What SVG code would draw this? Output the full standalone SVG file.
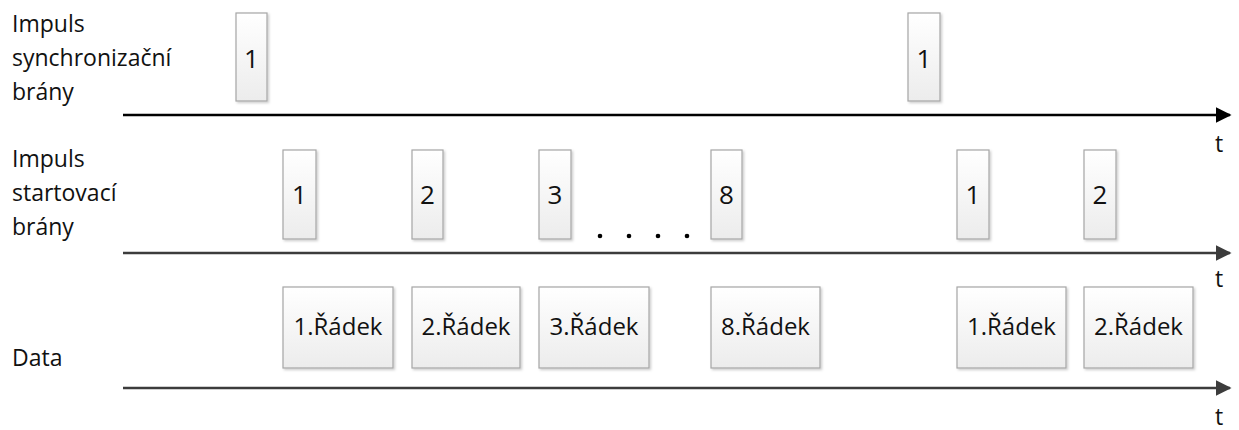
<svg xmlns="http://www.w3.org/2000/svg" width="1239" height="430" viewBox="0 0 1239 430">
<style>
.lbl{font-family:"Open Sans","Liberation Sans",sans-serif;font-size:23px;fill:#111}
.num{font-family:"Open Sans","Liberation Sans",sans-serif;font-size:24px;fill:#111;text-anchor:middle}
.dig{font-size:26px}
.box{fill:url(#g);stroke:#a6a6a6;stroke-width:1.2;filter:url(#sh)}
.ax1{stroke:#000;stroke-width:2.6;fill:none}
.ax{stroke:#3c3c3c;stroke-width:2.4;fill:none}
</style>
<defs>
<linearGradient id="g" x1="0" y1="0" x2="0" y2="1">
<stop offset="0" stop-color="#ffffff"/><stop offset="1" stop-color="#ececec"/>
</linearGradient>
<filter id="sh" x="-20%" y="-20%" width="150%" height="150%">
<feDropShadow dx="1.5" dy="1.5" stdDeviation="1" flood-color="#000" flood-opacity="0.2"/>
</filter>
<marker id="a1" viewBox="0 0 10 10" refX="9" refY="5" markerWidth="6" markerHeight="6" markerUnits="strokeWidth" orient="auto"><path d="M0,0 L10,5 L0,10 z" fill="#000"/></marker>
<marker id="a2" viewBox="0 0 10 10" refX="9" refY="5" markerWidth="6.5" markerHeight="6.5" markerUnits="strokeWidth" orient="auto"><path d="M0,0 L10,5 L0,10 z" fill="#3c3c3c"/></marker>
</defs>
<g id="labels">
<text class="lbl" x="12" y="32">Impuls</text>
<text class="lbl" x="12" y="66">synchronizační</text>
<text class="lbl" x="12" y="100">brány</text>
<text class="lbl" x="12" y="167">Impuls</text>
<text class="lbl" x="12" y="201">startovací</text>
<text class="lbl" x="12" y="235">brány</text>
<text class="lbl" x="12" y="366">Data</text>
<text class="lbl" x="1215" y="152">t</text>
<text class="lbl" x="1215" y="287">t</text>
<text class="lbl" x="1215" y="425">t</text>
</g>
<g id="connectors">
<line class="ax1" x1="123" y1="115" x2="1230" y2="115" marker-end="url(#a1)"/>
<line class="ax" x1="123" y1="253" x2="1230" y2="253" marker-end="url(#a2)"/>
<line class="ax" x1="123" y1="388" x2="1230" y2="388" marker-end="url(#a2)"/>
</g>
<g id="sync1"><rect class="box" x="236" y="13" width="31" height="88"/><text class="num dig" x="251.5" y="68">1</text></g>
<g id="sync2"><rect class="box" x="908" y="13" width="32" height="88"/><text class="num dig" x="924" y="68">1</text></g>
<g id="start1"><rect class="box" x="283" y="150" width="33" height="89"/><text class="num dig" x="299.5" y="204">1</text></g>
<g id="start2"><rect class="box" x="412" y="150" width="31" height="89"/><text class="num dig" x="427.5" y="204">2</text></g>
<g id="start3"><rect class="box" x="539" y="150" width="32" height="89"/><text class="num dig" x="555" y="204">3</text></g>
<g id="start8"><rect class="box" x="711" y="150" width="31" height="89"/><text class="num dig" x="726.5" y="204">8</text></g>
<g id="start1b"><rect class="box" x="957" y="150" width="32" height="89"/><text class="num dig" x="973" y="204">1</text></g>
<g id="start2b"><rect class="box" x="1084" y="150" width="32" height="89"/><text class="num dig" x="1100" y="204">2</text></g>
<g id="dots" fill="#000"><circle cx="600" cy="236" r="2.3"/><circle cx="629" cy="236" r="2.3"/><circle cx="658" cy="236" r="2.3"/><circle cx="687" cy="236" r="2.3"/></g>
<g id="data1"><rect class="box" x="283" y="287" width="110" height="81"/><text class="num" x="338" y="335">1.Řádek</text></g>
<g id="data2"><rect class="box" x="412" y="287" width="108" height="81"/><text class="num" x="466" y="335">2.Řádek</text></g>
<g id="data3"><rect class="box" x="539" y="287" width="110" height="81"/><text class="num" x="594" y="335">3.Řádek</text></g>
<g id="data8"><rect class="box" x="711" y="287" width="109" height="81"/><text class="num" x="765.5" y="335">8.Řádek</text></g>
<g id="data1b"><rect class="box" x="957" y="287" width="109" height="81"/><text class="num" x="1011.5" y="335">1.Řádek</text></g>
<g id="data2b"><rect class="box" x="1084" y="287" width="109" height="81"/><text class="num" x="1138.5" y="335">2.Řádek</text></g>
</svg>
